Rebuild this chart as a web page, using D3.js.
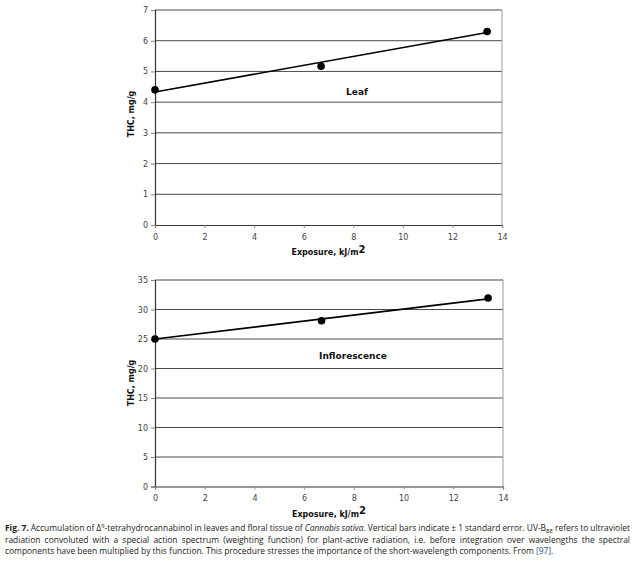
<!DOCTYPE html>
<html>
<head>
  <meta charset="utf-8">
  <script src="https://d3js.org/d3.v7.min.js"></script>
  <style>
    body { margin: 0; background: #fff; }
    svg { display: block; }
  </style>
</head>
<body>
<script>
  // exposure values (kJ/m2) shared by both panels
  var exposure = [0, 6.7, 13.4];
  var xTicks = [0, 2, 4, 6, 8, 10, 12, 14];

  // leaf THC, mg/g
  var leafTHC = [4.4, 5.17, 6.3];
  var leafFit = [4.33, 6.27];          // fitted line at x = 0 and x = 13.4
  var leafTicks = [0, 1, 2, 3, 4, 5, 6, 7];

  // inflorescence THC, mg/g
  var flowerTHC = [25.0, 28.1, 31.95];
  var flowerFit = [25.0, 31.8];
  var flowerTicks = [0, 5, 10, 15, 20, 25, 30, 35];

  var svg = d3.select("body").append("svg")
      .attr("width", 636)
      .attr("height", 561);

  function drawPanel(cfg) {
    var x = d3.scaleLinear().domain([0, 14]).range([cfg.left, cfg.right]);
    var y = d3.scaleLinear().domain([0, cfg.ymax]).range([cfg.bottom, cfg.top]);
    var g = svg.append("g");

    // horizontal grid
    g.selectAll("line.grid")
      .data(cfg.yTicks.slice(1))
      .enter().append("line")
        .attr("x1", cfg.left).attr("x2", cfg.right)
        .attr("y1", function (d) { return y(d); })
        .attr("y2", function (d) { return y(d); })
        .attr("stroke", "#4a4a4a")
        .attr("stroke-width", 1);

    // right border
    g.append("line")
      .attr("x1", cfg.right).attr("x2", cfg.right)
      .attr("y1", cfg.top).attr("y2", cfg.bottom)
      .attr("stroke", "#9a9a9a");

    // axes
    var yAxis = d3.axisLeft(y).tickValues(cfg.yTicks).tickFormat(d3.format("d"))
        .tickSize(4).tickPadding(3);
    var xAxis = d3.axisBottom(x).tickValues(xTicks).tickFormat(d3.format("d"))
        .tickSize(3).tickPadding(6);

    var ya = g.append("g").attr("transform", "translate(" + cfg.left + ",0)").call(yAxis);
    var xa = g.append("g").attr("transform", "translate(0," + cfg.bottom + ")").call(xAxis);
    [ya, xa].forEach(function (a) {
      a.select(".domain").attr("stroke", "#333").attr("stroke-width", 1.2);
      a.selectAll(".tick line").attr("stroke", "#888");
      a.selectAll(".tick text")
        .attr("fill", "#444")
        .style("font-family", "DejaVu Sans, Verdana, sans-serif")
        .style("font-size", "8px");
    });

    // fitted line
    g.append("line")
      .attr("x1", x(exposure[0])).attr("y1", y(cfg.fit[0]))
      .attr("x2", x(exposure[2])).attr("y2", y(cfg.fit[1]))
      .attr("stroke", "#000")
      .attr("stroke-width", 1.6);

    // data points
    g.selectAll("circle")
      .data(cfg.values)
      .enter().append("circle")
        .attr("cx", function (d, i) { return x(exposure[i]); })
        .attr("cy", function (d) { return y(d); })
        .attr("r", 3.8)
        .attr("fill", "#000");

    // panel label
    g.append("text")
      .attr("x", cfg.labelX).attr("y", cfg.labelY)
      .attr("text-anchor", "middle")
      .style("font-family", "DejaVu Sans, Verdana, sans-serif")
      .style("font-size", "9px")
      .style("font-weight", "bold")
      .attr("fill", "#111")
      .text(cfg.label);

    // x title
    var xt = g.append("text")
      .attr("x", (cfg.left + cfg.right) / 2)
      .attr("y", cfg.bottom + 30)
      .attr("text-anchor", "middle")
      .style("font-family", "DejaVu Sans, Verdana, sans-serif")
      .style("font-size", "8px")
      .style("font-weight", "bold")
      .attr("fill", "#111");
    xt.append("tspan").text("Exposure, kJ/m");
    xt.append("tspan").attr("dy", -2.5).style("font-size", "10px").text("2");

    // y title
    g.append("text")
      .attr("transform", "translate(" + (cfg.left - 21) + "," + cfg.titleY + ") rotate(-90)")
      .attr("text-anchor", "middle")
      .style("font-family", "DejaVu Sans, Verdana, sans-serif")
      .style("font-size", "8px")
      .style("font-weight", "bold")
      .attr("fill", "#111")
      .text("THC, mg/g");
  }

  drawPanel({
    left: 155, right: 502, top: 10, bottom: 225,
    ymax: 7, yTicks: leafTicks, values: leafTHC, fit: leafFit,
    label: "Leaf", labelX: 357, labelY: 95, titleY: 114
  });

  drawPanel({
    left: 155, right: 503, top: 280, bottom: 486.5,
    ymax: 35, yTicks: flowerTicks, values: flowerTHC, fit: flowerFit,
    label: "Inflorescence", labelX: 353, labelY: 359, titleY: 383
  });

  // caption: three justified lines, last one ragged
  var cap = svg.append("g")
    .style("font-family", "Open Sans, sans-serif")
    .style("font-size", "9px")
    .attr("fill", "#1a1a1a");

  var l1 = cap.append("text").attr("x", 5).attr("y", 531);
  l1.append("tspan").style("font-weight", "bold").text("Fig. 7.");
  l1.append("tspan").text(" Accumulation of \u0394");
  l1.append("tspan").attr("dy", -3).style("font-size", "6px").text("9");
  l1.append("tspan").attr("dy", 3).text("-tetrahydrocannabinol in leaves and floral tissue of ");
  l1.append("tspan").style("font-style", "italic").text("Cannabis sativa");
  l1.append("tspan").text(". Vertical bars indicate \u00b1 1 standard error. UV-B");
  l1.append("tspan").attr("dy", 2).style("font-size", "6px").text("BE");
  l1.append("tspan").attr("dy", -2).text(" refers to ultraviolet");

  var l2 = cap.append("text").attr("x", 5).attr("y", 542.5)
    .text("radiation convoluted with a special action spectrum (weighting function) for plant-active radiation, i.e. before integration over wavelengths the spectral");

  var l3 = cap.append("text").attr("x", 5).attr("y", 554);
  l3.append("tspan").text("components have been multiplied by this function. This procedure stresses the importance of the short-wavelength components. From ");
  l3.append("tspan").attr("fill", "#2a4d9b").text("[97]");
  l3.append("tspan").text(".");

  // size the caption so the last line ends where the reference does
  var fs = 9 * 549 / l3.node().getComputedTextLength();
  cap.style("font-size", fs.toFixed(2) + "px");
  l1.selectAll("tspan").filter(function () { return this.style.fontSize; })
    .style("font-size", (fs * 0.68).toFixed(2) + "px");

  // justify the first two lines with word spacing
  [l1, l2].forEach(function (t) {
    var w = t.node().getComputedTextLength();
    var gaps = t.text().split(" ").length - 1;
    t.attr("word-spacing", ((625 - w) / gaps).toFixed(3));
  });
</script>
</body>
</html>
